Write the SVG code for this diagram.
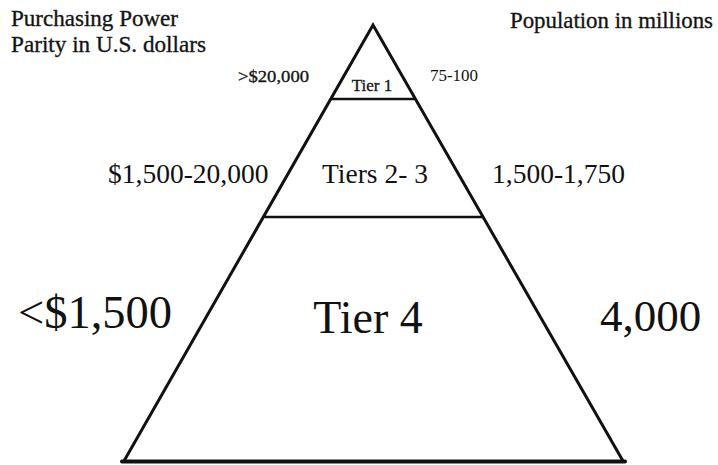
<svg xmlns="http://www.w3.org/2000/svg" width="718" height="465" viewBox="0 0 718 465">
<style>
text{font-family:"Liberation Serif","Times New Roman",serif;fill:#111}
.small{stroke:#222;stroke-width:0.35}
.edge{stroke:#111;fill:none;stroke-linecap:round;stroke-linejoin:miter}
</style>
<rect width="718" height="465" fill="#fff"/>
<g id="connectors">
<path class="edge" d="M124,461 L373,25 L623,461" stroke-width="3"/>
<line class="edge" x1="122" y1="461.5" x2="625" y2="461.5" stroke-width="4"/>
<line class="edge" x1="332" y1="99" x2="414" y2="99" stroke-width="2.5"/>
<line class="edge" x1="265" y1="217" x2="482" y2="217" stroke-width="2.5"/>
</g>
<g id="axis-left">
<text class="small" x="11" y="26" font-size="23" textLength="167" lengthAdjust="spacingAndGlyphs">Purchasing Power</text>
<text class="small" x="11" y="52" font-size="23" textLength="195" lengthAdjust="spacingAndGlyphs">Parity in U.S. dollars</text>
</g>
<g id="axis-right">
<text class="small" x="510" y="28" font-size="22.5" textLength="203" lengthAdjust="spacingAndGlyphs">Population in millions</text>
</g>
<g id="tier1">
<text class="small" x="238" y="82" font-size="17" textLength="71" lengthAdjust="spacingAndGlyphs">&gt;$20,000</text>
<text class="small" x="372" y="91" font-size="17" text-anchor="middle">Tier 1</text>
<text x="430" y="81" font-size="17" textLength="48" lengthAdjust="spacingAndGlyphs">75-100</text>
</g>
<g id="tier23">
<text x="108" y="183" font-size="27.5">$1,500-20,000</text>
<text x="375" y="183" font-size="27.5" text-anchor="middle">Tiers 2- 3</text>
<text x="492" y="183" font-size="27.5">1,500-1,750</text>
</g>
<g id="tier4">
<text x="18" y="328" font-size="46.5">&lt;$1,500</text>
<text x="368" y="333" font-size="46" text-anchor="middle">Tier 4</text>
<text x="600" y="331" font-size="45">4,000</text>
</g>
</svg>
